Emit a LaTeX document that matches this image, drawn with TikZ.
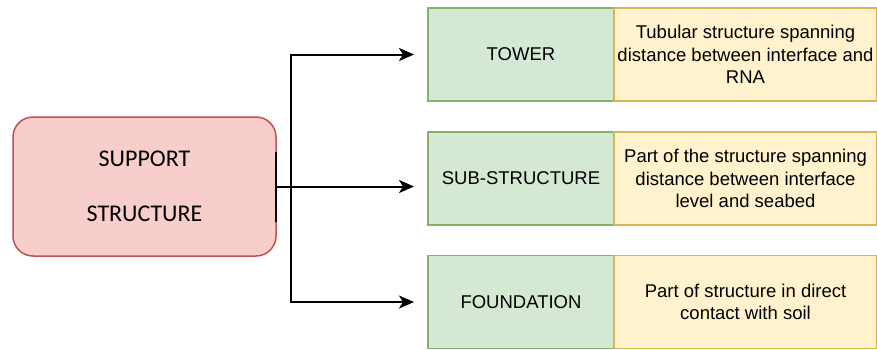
\documentclass[tikz,border=0pt]{standalone}
\usepackage{fontspec}
\setmainfont{Liberation Sans}
\newfontfamily\calibrifont{Carlito}
\usepackage{tikz}
\usetikzlibrary{positioning}
\usetikzlibrary{calc}
\usetikzlibrary{arrows.meta}

\definecolor{redfill}{HTML}{F8CECC}
\definecolor{redline}{HTML}{B85450}
\definecolor{greenfill}{HTML}{D5E8D4}
\definecolor{greenline}{HTML}{82B366}
\definecolor{yellowfill}{HTML}{FFF2CC}
\definecolor{yellowline}{HTML}{D6B656}

\begin{document}
\begin{tikzpicture}[
  x=1pt,y=-1pt,
  part/.style={draw=greenline,fill=greenfill,line width=1.5pt,outer sep=0pt,
    minimum width=186pt,minimum height=93pt,inner sep=0pt,
    font=\fontsize{18.5}{22.5}\selectfont},
  info/.style={draw=yellowline,fill=yellowfill,line width=1.5pt,outer sep=0pt,
    minimum width=263pt,minimum height=93pt,inner sep=0pt,align=center,
    font=\fontsize{18.5}{22.5}\selectfont},
  link/.style={-{Stealth[length=15pt,width=13pt,inset=4pt]},line width=2pt,shorten >=14pt}
  ]
  \useasboundingbox (0,0) rectangle (877,349);
  \node (support)        [draw=redline,fill=redfill,line width=1.5pt,outer sep=0pt,
                          rounded corners=20pt,minimum width=263pt,minimum height=139pt,
                          align=center,font=\calibrifont\fontsize{24}{55}\selectfont]
                          at (144.5,186.5) {SUPPORT\\STRUCTURE};
  \node (tower)          [part] at (521,54.5) {TOWER};
  \node (towerinfo)      [info,right=0pt of tower] {Tubular structure spanning\\distance between interface and\\RNA};
  \node (substructure)   [part] at (521,178.5) {SUB-STRUCTURE};
  \node (substructinfo)  [info,right=0pt of substructure] {Part of the structure spanning\\distance between interface\\level and seabed};
  \node (foundation)     [part] at (521,302) {FOUNDATION};
  \node (foundinfo)      [info,right=0pt of foundation] {Part of structure in direct\\contact with soil};

  \coordinate (trunk) at ($(support.east)+(15,0)$);
  \draw[line width=2.5pt] ($(support.east)+(0,-35)$) -- ($(support.east)+(0,35)$);
  \draw[link] (support.east) -- (support.east -| substructure.west);
  \draw[link] (trunk) |- (tower.west);
  \draw[link] (trunk) |- (foundation.west);
\end{tikzpicture}
\end{document}
